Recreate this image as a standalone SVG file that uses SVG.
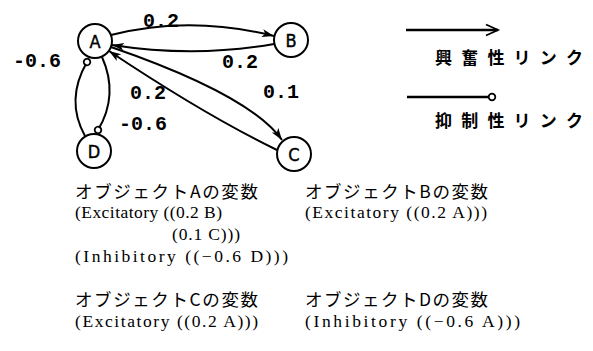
<svg xmlns="http://www.w3.org/2000/svg" width="593" height="351" viewBox="0 0 593 351">
<style>
.node circle{fill:#fff;stroke:#000;stroke-width:2}
.node text{font-family:"DejaVu Sans Condensed","Liberation Sans Narrow","Liberation Sans",sans-serif;font-size:18px;text-anchor:middle;fill:#000;stroke:#000;stroke-width:0.4}
.edge{fill:none;stroke:#000;stroke-width:2}
.legline{fill:none;stroke:#000;stroke-width:2.6}
.lbl{font-family:"Liberation Mono","DejaVu Sans Mono",monospace;font-size:20px;font-weight:bold;fill:#000}
.leg{font-family:"Noto Sans CJK JP",sans-serif;font-size:17px;font-weight:bold;fill:#000}
.jp{font-family:"Noto Sans CJK JP",sans-serif;font-size:17.5px;fill:#000}
.en{font-family:"Liberation Serif","Noto Sans CJK JP",serif;font-size:17.5px;fill:#000}
</style>
<defs>
<marker id="arr" markerUnits="userSpaceOnUse" markerWidth="14" markerHeight="10" refX="12" refY="4.5" orient="auto" viewBox="0 0 14 10">
<path d="M0,0.5 L12,4.5 L0,8.5 L3,4.5 z" fill="#000"/>
</marker>
<marker id="chev" markerUnits="userSpaceOnUse" markerWidth="16" markerHeight="14" refX="13" refY="7" orient="auto" viewBox="0 0 16 14">
<path d="M1,1.5 L13,7 L1,12.5" fill="none" stroke="#000" stroke-width="1.8"/>
</marker>
<marker id="inh" markerUnits="userSpaceOnUse" markerWidth="10" markerHeight="10" refX="5" refY="5" orient="auto" viewBox="0 0 10 10">
<circle cx="5" cy="5" r="3.3" fill="#fff" stroke="#000" stroke-width="1.8"/>
</marker>
</defs>
<g id="connectors">
<path class="edge" d="M111,35 Q190,15 274,36" marker-end="url(#arr)"/>
<path class="edge" d="M274,44 Q195,58 112,45" marker-end="url(#arr)"/>
<path class="edge" d="M111,47 Q250,95 282,140" marker-end="url(#arr)"/>
<path class="edge" d="M277,150 Q205,115 109,51" marker-end="url(#arr)"/>
<path class="edge" d="M85,136 Q65,100 87,62" marker-end="url(#inh)"/>
<path class="edge" d="M102,57 Q119,95 98,130" marker-end="url(#inh)"/>
</g>
<g id="edge-labels">
<text class="lbl" x="143" y="27">0.2</text>
<text class="lbl" x="222" y="68">0.2</text>
<text class="lbl" x="263" y="98">0.1</text>
<text class="lbl" x="130" y="99">0.2</text>
<text class="lbl" x="13" y="67">-0.6</text>
<text class="lbl" x="119" y="130">-0.6</text>
</g>
<g id="node-A" class="node"><circle cx="95" cy="41" r="17"/><text x="95" y="47.5">A</text></g>
<g id="node-B" class="node"><circle cx="291" cy="40" r="17"/><text x="291" y="46.5">B</text></g>
<g id="node-C" class="node"><circle cx="294" cy="154" r="17"/><text x="294" y="160.5">C</text></g>
<g id="node-D" class="node"><circle cx="94" cy="151" r="17"/><text x="94" y="157.5">D</text></g>
<g id="legend">
<path class="legline" d="M406,30 L498,30" marker-end="url(#chev)"/>
<text class="leg" x="435" y="64" textLength="148" lengthAdjust="spacing">興奮性リンク</text>
<path class="legline" d="M407,97 L492,97" marker-end="url(#inh)"/>
<text class="leg" x="435" y="127" textLength="148" lengthAdjust="spacing">抑制性リンク</text>
</g>
<g id="variables">
<text class="jp" x="75" y="198" textLength="183" lengthAdjust="spacing">オブジェクトAの変数</text>
<text class="en" x="75" y="218" textLength="147" lengthAdjust="spacing">(Excitatory ((0.2 B)</text>
<text class="en" x="172" y="240" textLength="68" lengthAdjust="spacing">(0.1 C)))</text>
<text class="en" x="75" y="262" textLength="213" lengthAdjust="spacing">(Inhibitory ((−0.6 D)))</text>
<text class="jp" x="75" y="306" textLength="183" lengthAdjust="spacing">オブジェクトCの変数</text>
<text class="en" x="75" y="327" textLength="183" lengthAdjust="spacing">(Excitatory ((0.2 A)))</text>
<text class="jp" x="305" y="198" textLength="183" lengthAdjust="spacing">オブジェクトBの変数</text>
<text class="en" x="305" y="218" textLength="182" lengthAdjust="spacing">(Excitatory ((0.2 A)))</text>
<text class="jp" x="305" y="306" textLength="183" lengthAdjust="spacing">オブジェクトDの変数</text>
<text class="en" x="305" y="327" textLength="215" lengthAdjust="spacing">(Inhibitory ((−0.6 A)))</text>
</g>
</svg>
